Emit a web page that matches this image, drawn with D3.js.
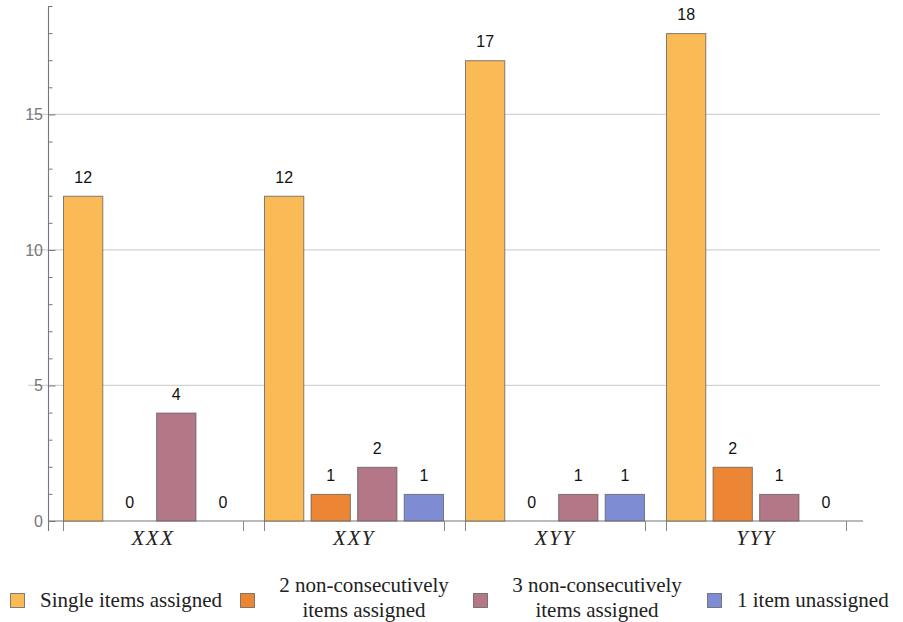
<!DOCTYPE html>
<html><head><meta charset="utf-8">
<script src="https://cdn.jsdelivr.net/npm/d3@7"></script>
<style>body{margin:0;background:#fff}svg{display:block}</style>
</head><body>
<svg id="c" width="903" height="622"></svg>
<script>
const categories = ["XXX", "XXY", "XYY", "YYY"];
const seriesNames = ["Single items assigned", "2 non-consecutively items assigned", "3 non-consecutively items assigned", "1 item unassigned"];
const legendLines = [["Single items assigned"], ["2 non-consecutively", "items assigned"], ["3 non-consecutively", "items assigned"], ["1 item unassigned"]];
const singleItems = [12, 12, 17, 18];
const twoNonConsec = [0, 1, 0, 2];
const threeNonConsec = [4, 2, 1, 1];
const oneUnassigned = [0, 1, 1, 0];
const yTickLabels = [0, 5, 10, 15];
const colors = ["#FABA55", "#EC8634", "#B47788", "#7E8CD3"];

const seriesValues = [singleItems, twoNonConsec, threeNonConsec, oneUnassigned];
const svg = d3.select("#c");

const x0 = d3.scaleBand().domain(categories).range([63, 846]).paddingInner(21/201).paddingOuter(0);
const x1 = d3.scaleBand().domain(d3.range(4)).range([0, x0.bandwidth()]).paddingInner(0.135).paddingOuter(0);
const y = d3.scaleLinear().domain([0, 19]).range([521, 6]);

// grid
svg.append("g").selectAll("line").data(yTickLabels.filter(d => d > 0)).join("line")
  .attr("x1", 28).attr("x2", 880).attr("y1", d => y(d)).attr("y2", d => y(d))
  .attr("stroke", "#d2d2d2").attr("stroke-width", 1.3);

// y axis
const yAxis = d3.axisRight(y).tickValues(d3.range(0, 20, 1)).tickSize(0).tickFormat("");
const gy = svg.append("g").attr("transform", "translate(48.5,0)");
gy.call(yAxis);
gy.select(".domain").remove();
gy.append("line").attr("x1", 0).attr("x2", 0).attr("y1", 6).attr("y2", 531).attr("stroke", "#777").attr("stroke-width", 1.1);
gy.selectAll(".tick").each(function(d){
  d3.select(this).append("line").attr("x1", 0).attr("x2", d % 5 === 0 ? 7 : 4).attr("y1", 0).attr("y2", 0)
    .attr("stroke", "#777").attr("stroke-width", 1);
});
svg.append("g").selectAll("text").data(yTickLabels).join("text")
  .attr("x", 43).attr("y", d => y(d)).attr("dy", "0.36em").attr("text-anchor", "end")
  .attr("font-family", "Liberation Sans, Arial, sans-serif").attr("font-size", 16).attr("fill", "#777")
  .text(d => d);

// x axis baseline
svg.append("line").attr("x1", 48.5).attr("x2", 863).attr("y1", y(0)).attr("y2", y(0)).attr("stroke", "#777").attr("stroke-width", 1.1);
// group ticks
const edges = [];
categories.forEach(c => { edges.push(x0(c)); edges.push(x0(c) + x0.bandwidth()); });
svg.append("g").selectAll("line").data(edges).join("line")
  .attr("x1", d => Math.round(d) + 0.5).attr("x2", d => Math.round(d) + 0.5)
  .attr("y1", y(0)).attr("y2", y(0) + 10).attr("stroke", "#888").attr("stroke-width", 1);

// category labels
svg.append("g").selectAll("text").data(categories).join("text")
  .attr("x", d => x0(d) + x0.bandwidth() / 2).attr("y", 545).attr("text-anchor", "middle")
  .attr("font-family", "Liberation Serif, Times New Roman, serif").attr("font-style", "italic").attr("font-size", 21)
  .attr("letter-spacing", 1.5)
  .attr("fill", "#222").text(d => d);

// bars
const flat = [];
categories.forEach((c, i) => seriesValues.forEach((vals, s) => flat.push({c, s, v: vals[i]})));
const gb = svg.append("g");
gb.selectAll("rect").data(flat.filter(d => d.v > 0)).join("rect")
  .attr("x", d => x0(d.c) + x1(d.s) + 0.5).attr("width", x1.bandwidth() - 1)
  .attr("y", d => y(d.v) + 0.5).attr("height", d => y(0) - y(d.v) - 0.5)
  .attr("fill", d => colors[d.s]).attr("stroke", "rgba(90,90,90,0.75)").attr("stroke-width", 1);
gb.selectAll("text").data(flat).join("text")
  .attr("x", d => x0(d.c) + x1(d.s) + x1.bandwidth() / 2).attr("y", d => y(d.v) - 13)
  .attr("text-anchor", "middle").attr("font-family", "Liberation Sans, Arial, sans-serif").attr("font-size", 16)
  .attr("fill", "#111").text(d => d.v);

// legend
const legendX = [10, 240, 473, 707];
const lg = svg.append("g");
legendLines.forEach((lines, i) => {
  lg.append("rect").attr("x", legendX[i] + 0.5).attr("y", 593.5).attr("width", 14).attr("height", 14)
    .attr("fill", colors[i]).attr("stroke", "rgba(90,90,90,0.75)");
  const t = lg.append("text").attr("font-family", "Liberation Serif, Times New Roman, serif").attr("font-size", 21).attr("fill", "#222");
  if (lines.length === 1) {
    t.attr("x", legendX[i] + 30).attr("y", 607).text(lines[0]);
  } else {
    const cx = legendX[i] + 124;
    lines.forEach((ln, k) => t.append("tspan").attr("x", cx).attr("y", 592 + k * 25).attr("text-anchor", "middle").text(ln));
  }
});
</script>
</body></html>
